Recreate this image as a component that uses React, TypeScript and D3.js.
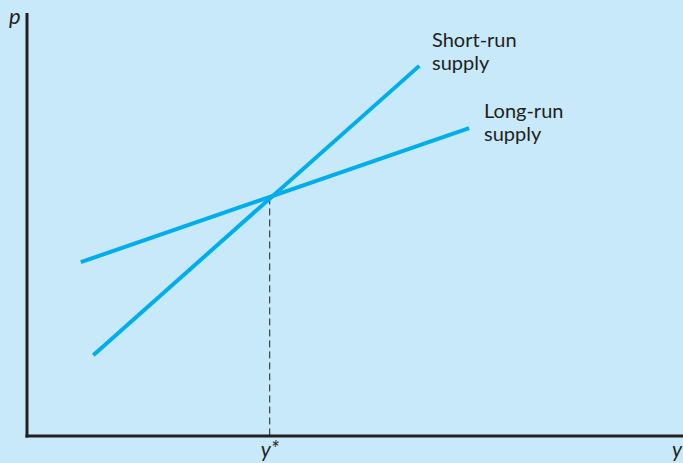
import React from "react";
import * as d3 from "d3";

const shortRunX = [10.1, 59.8];
const shortRunP = [19.1, 87.5];
const longRunX = [8.2, 67.4];
const longRunP = [41.1, 72.8];
const equilibriumX = 37.0;
const equilibriumP = 56.4;
const labels = { shortRun: ["Short-run", "supply"], longRun: ["Long-run", "supply"] };

export default function App() {
  const W = 683, H = 463;
  const x = d3.scaleLinear().domain([0, 100]).range([27, 683]);
  const y = d3.scaleLinear().domain([0, 100]).range([436, 13]);
  const line = d3.line<[number, number]>().x(d => x(d[0])).y(d => y(d[1]));
  const sr: [number, number][] = shortRunX.map((v, i) => [v, shortRunP[i]]);
  const lr: [number, number][] = longRunX.map((v, i) => [v, longRunP[i]]);
  const font = "Lato, 'Open Sans', sans-serif";
  const ink = "#231f20";
  return (
    <svg width={W} height={H} style={{ position: "absolute", left: 0, top: 0, display: "block" }}>
      <rect width={W} height={H} fill="#c7e9f9" />
      <line x1={x(equilibriumX)} x2={x(equilibriumX)} y1={y(equilibriumP)} y2={y(0)} stroke={ink} strokeWidth={1} strokeDasharray="7,4" />
      <path d={line(lr) || ""} stroke="#00aeef" strokeWidth={4} fill="none" />
      <path d={line(sr) || ""} stroke="#00aeef" strokeWidth={4} fill="none" />
      <line x1={x(0)} x2={x(0)} y1={y(100)} y2={y(0) + 1.5} stroke={ink} strokeWidth={3} />
      <line x1={x(0) - 1.5} x2={W} y1={y(0)} y2={y(0)} stroke={ink} strokeWidth={3} />
      <text x={9} y={24} fontFamily={font} fontStyle="italic" fontSize={22} fill={ink}>p</text>
      <text x={x(equilibriumX) - 9} y={457} fontFamily={font} fontStyle="italic" fontSize={21} fill={ink}>y<tspan dy={-1}>*</tspan></text>
      <text x={672} y={457} fontFamily={font} fontStyle="italic" fontSize={21} fill={ink}>y</text>
      <g fontFamily={font} fontSize={20} fill={ink}>
        <text x={432} y={47}>{labels.shortRun[0]}</text>
        <text x={432} y={70}>{labels.shortRun[1]}</text>
        <text x={484} y={118}>{labels.longRun[0]}</text>
        <text x={484} y={141}>{labels.longRun[1]}</text>
      </g>
    </svg>
  );
}
